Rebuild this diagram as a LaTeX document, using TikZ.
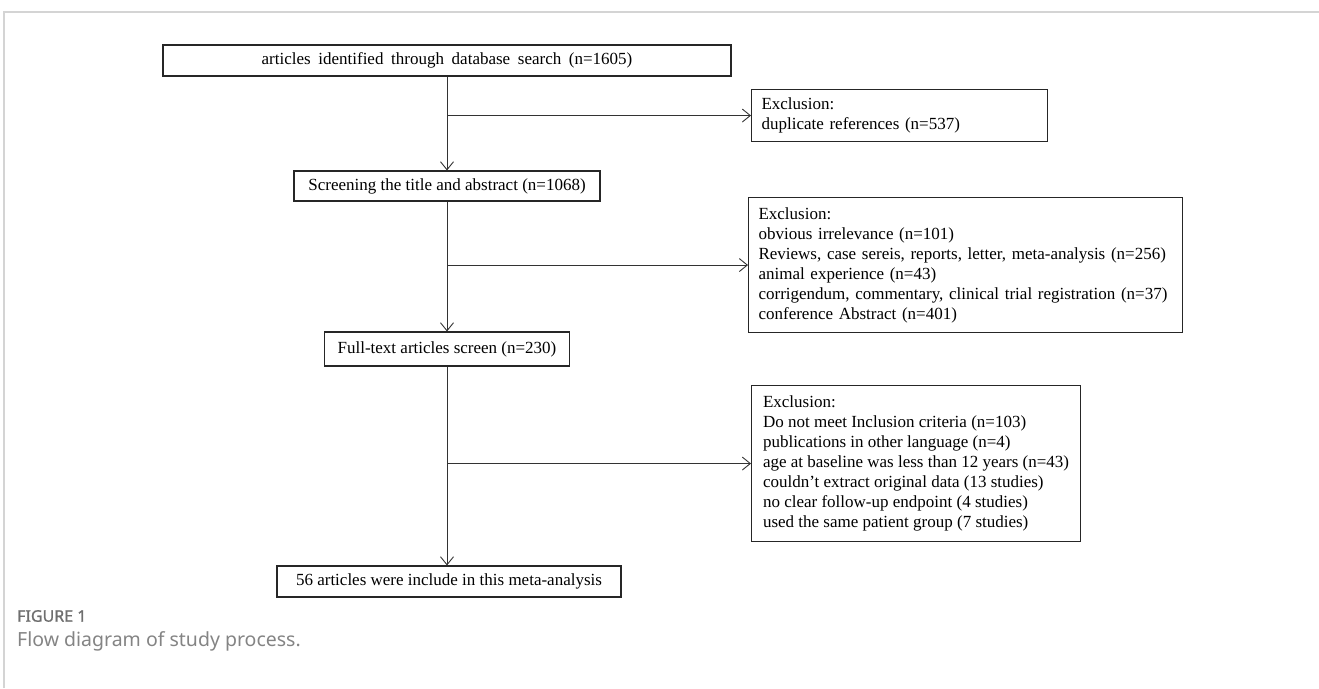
\documentclass[tikz,border=0pt]{standalone}
\usepackage{fontspec}
\setmainfont{Liberation Serif}
\newfontfamily\capfont{Noto Sans}[AutoFakeBold=1.3]
\usetikzlibrary{arrows.meta}
\definecolor{framegray}{HTML}{D4D4D4}
\definecolor{capgray}{HTML}{6E6E6E}
\newcommand\widesp{\spaceskip=0.45em plus 0.1em\relax}
\tikzset{
  mainbox/.style={draw=black!85, line width=1.1pt, inner sep=0pt, align=center,
    font=\fontsize{17}{20}\selectfont},
  exclbox/.style={draw=black!85, line width=1.1pt, anchor=north west, inner xsep=10pt,
    inner ysep=0pt, align=left, font=\fontsize{17}{20}\selectfont},
  arr/.style={draw=black!80, line width=0.9pt, -{Straight Barb[length=8pt,width=13pt]}}
}
\begin{document}
\begin{tikzpicture}[x=1pt,y=-1pt]
        \useasboundingbox (0,0) rectangle (1319,688);
        % frame
        \draw [framegray, line width=1.6pt] (4,688) -- (4,12) -- (1319,12);
        % main boxes
        \node [mainbox, minimum width=568pt, minimum height=31pt] (ident) at (447,60.5) {\widesp articles identified through database search (n=1605)};
        \node [mainbox, minimum width=306pt, minimum height=30pt] (screen) at (447,186) {Screening the title and abstract (n=1068)};
        \node [mainbox, minimum width=245pt, minimum height=34pt] (fulltext) at (447,349) {Full-text articles screen (n=230)};
        \node [mainbox, minimum width=344pt, minimum height=31pt] (incl) at (449,581.5) {56 articles were include in this meta-analysis};
        % exclusion boxes
        \node [exclbox, text width=276pt, minimum height=52pt] (excla) at (751,89) {Exclusion:\\duplicate references (n=537)};
        \node [exclbox, text width=414pt, minimum height=135pt] (exclb) at (748,197) {Exclusion:\\obvious irrelevance (n=101)\\Reviews, case sereis, reports, letter, meta-analysis (n=256)\\animal experience (n=43)\\corrigendum, commentary, clinical trial registration (n=37)\\conference Abstract (n=401)};
        \node [exclbox, inner xsep=6pt, minimum width=329pt, minimum height=156pt] (exclc) at (751,385) {Exclusion:\\Do not meet Inclusion criteria (n=103)\\publications in other language (n=4)\\age at baseline was less than 12 years (n=43)\\couldn't extract original data (13 studies)\\no clear follow-up endpoint (4 studies)\\used the same patient group (7 studies)};
        % arrows
        \draw [arr] (ident.south) -- (screen.north);
        \draw [arr] (screen.south) -- (fulltext.north);
        \draw [arr] (fulltext.south) -- (fulltext.south |- incl.north);
        \draw [arr] (ident.south |- excla.west) -- (excla.west);
        \draw [arr] (screen.south |- exclb.west) -- (exclb.west);
        \draw [arr] (fulltext.south |- exclc.west) -- (exclc.west);
        % caption
        \node [anchor=west, text=capgray, font=\capfont\bfseries\fontsize{16}{20}\selectfont, inner sep=0pt] (fig) at (17,616) {FIGURE 1};
        \node [anchor=west, text=capgray!85, font=\capfont\fontsize{19.5}{22}\selectfont, inner sep=0pt] (figtext) at (17,641) {Flow diagram of study process.};
\end{tikzpicture}
\end{document}
